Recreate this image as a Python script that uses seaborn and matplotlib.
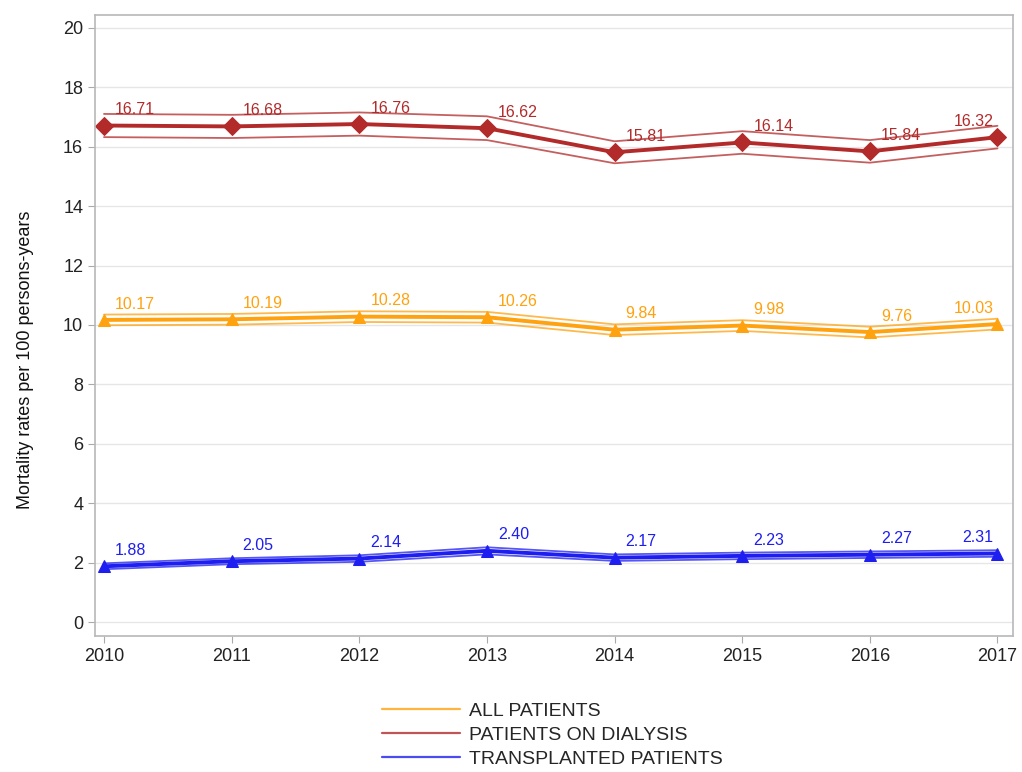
import numpy as np
import pandas as pd
import matplotlib
matplotlib.use('Agg')
import matplotlib.pyplot as plt
from matplotlib.lines import Line2D
import seaborn as sns

# data
years = [2010, 2011, 2012, 2013, 2014, 2015, 2016, 2017]
series_names = ['ALL PATIENTS', 'PATIENTS ON DIALYSIS', 'TRANSPLANTED PATIENTS']

all_rate = [10.17, 10.19, 10.28, 10.26, 9.84, 9.98, 9.76, 10.03]
all_upper = [10.35, 10.37, 10.46, 10.44, 10.02, 10.16, 9.94, 10.21]
all_lower = [9.99, 10.01, 10.10, 10.08, 9.66, 9.80, 9.58, 9.85]

dial_rate = [16.71, 16.68, 16.76, 16.62, 15.81, 16.14, 15.84, 16.32]
dial_upper = [17.10, 17.07, 17.15, 17.02, 16.18, 16.52, 16.22, 16.70]
dial_lower = [16.32, 16.29, 16.37, 16.22, 15.44, 15.76, 15.46, 15.94]

tx_rate = [1.88, 2.05, 2.14, 2.40, 2.17, 2.23, 2.27, 2.31]
tx_upper = [1.98, 2.15, 2.25, 2.52, 2.28, 2.34, 2.38, 2.42]
tx_lower = [1.78, 1.95, 2.03, 2.28, 2.06, 2.12, 2.16, 2.20]

colors = {'ALL PATIENTS': '#FFA20F',
          'PATIENTS ON DIALYSIS': '#B22A2A',
          'TRANSPLANTED PATIENTS': '#1E1EF0'}
markers = {'ALL PATIENTS': '^', 'PATIENTS ON DIALYSIS': 'D', 'TRANSPLANTED PATIENTS': '^'}

rates = {'ALL PATIENTS': (all_rate, all_upper, all_lower),
         'PATIENTS ON DIALYSIS': (dial_rate, dial_upper, dial_lower),
         'TRANSPLANTED PATIENTS': (tx_rate, tx_upper, tx_lower)}

rows = []
for name in series_names:
    r, u, l = rates[name]
    for i, y in enumerate(years):
        rows.append({'year': y, 'series': name, 'rate': r[i], 'upper': u[i], 'lower': l[i]})
df = pd.DataFrame(rows)

sns.set_style('white')
plt.rcParams['font.family'] = ['Liberation Sans', 'DejaVu Sans']

fig = plt.figure(figsize=(10.22, 7.72), dpi=100)
ax = fig.add_axes([0.093, 0.176, 0.898, 0.805])

for name in series_names:
    sub = df[df['series'] == name]
    c = colors[name]
    sns.lineplot(data=sub, x='year', y='upper', color=c, lw=1.3, alpha=0.75, ax=ax, legend=False)
    sns.lineplot(data=sub, x='year', y='lower', color=c, lw=1.3, alpha=0.75, ax=ax, legend=False)
    sns.lineplot(data=sub, x='year', y='rate', color=c, lw=2.8, marker=markers[name],
                 markersize=9, markeredgecolor=c, ax=ax, legend=False)
    for i, (x, y) in enumerate(zip(sub['year'], sub['rate'])):
        last = i == len(years) - 1
        ax.annotate(f'{y:.2f}', (x, y), xytext=(-3 if last else 8, 6),
                    textcoords='offset points', ha='right' if last else 'left',
                    va='bottom', fontsize=11.5, color=c)

ax.set_xlim(2009.93, 2017.12)
ax.set_ylim(-0.47, 20.44)
ax.set_xticks(years)
ax.set_yticks(range(0, 21, 2))
ax.tick_params(axis='both', labelsize=13, length=5, color='#aaaaaa', direction='out',
               bottom=True, left=True, labelcolor='#222222')
ax.yaxis.grid(True, color='#e6e6e6', lw=1)
ax.set_axisbelow(True)
for s in ax.spines.values():
    s.set_color('#b8b8b8')
    s.set_linewidth(1.2)
ax.set_xlabel('')
ax.set_ylabel('Mortality rates per 100 persons-years', fontsize=13, color='#111111')
ax.yaxis.set_label_coords(-0.067, 0.444)

handles = [Line2D([0], [0], color=colors[n], lw=1.6, alpha=0.8) for n in series_names]
fig.legend(handles, series_names, loc='upper left', bbox_to_anchor=(0.366, 0.1),
           frameon=False, fontsize=14, handlelength=4.0, labelspacing=0.33,
           handletextpad=0.5, borderaxespad=0)

fig.savefig('out.png', dpi=100)
